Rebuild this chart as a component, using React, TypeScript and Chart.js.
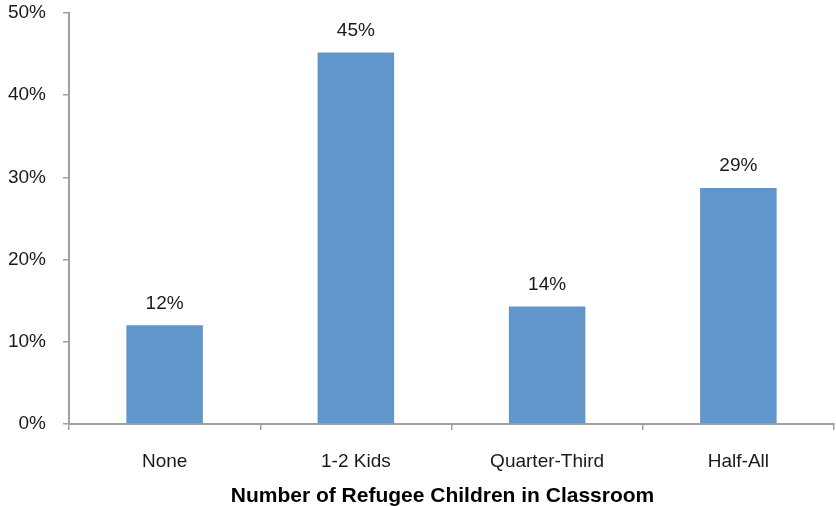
import React, { useEffect, useRef } from "react";
import { Chart, registerables } from "chart.js";

Chart.register(...registerables);

const categories = ["None", "1-2 Kids", "Quarter-Third", "Half-All"];
const values = [12.0, 45.2, 14.3, 28.7];
const valueLabels = ["12%", "45%", "14%", "29%"];
const yTicks = [0, 10, 20, 30, 40, 50];
const xTitle = "Number of Refugee Children in Classroom";

const FONT = "'Liberation Sans', Arial, sans-serif";

const labelPlugin = {
  id: "barLabels",
  afterDatasetsDraw(chart: any) {
    const ctx = chart.ctx;
    const meta = chart.getDatasetMeta(0);
    ctx.save();
    ctx.fillStyle = "#1a1a1a";
    ctx.font = "19px " + FONT;
    ctx.textAlign = "center";
    ctx.textBaseline = "middle";
    meta.data.forEach((bar: any, i: number) => {
      ctx.fillText(valueLabels[i], bar.x, bar.y - 22);
    });
    // axis title
    ctx.fillStyle = "#000";
    ctx.font = "bold 21px " + FONT;
    const xs = chart.scales.x;
    ctx.fillText(xTitle, (xs.left + xs.right) / 2 - 9, xs.bottom - 10);
    ctx.restore();
  },
};

export default function App() {
  const ref = useRef<HTMLCanvasElement>(null);
  useEffect(() => {
    const chart = new Chart(ref.current!, {
      type: "bar",
      data: {
        labels: categories,
        datasets: [
          {
            data: values,
            backgroundColor: "#6096c9",
            barPercentage: 0.4,
            categoryPercentage: 1,
          },
        ],
      },
      options: {
        animation: false,
        responsive: false,
        devicePixelRatio: 1,
        layout: { padding: { top: 13, right: 2, left: 0, bottom: 0 } },
        plugins: { legend: { display: false }, tooltip: { enabled: false } },
        scales: {
          x: {
            grid: {
              offset: true,
              drawOnChartArea: false,
              drawTicks: true,
              tickLength: 6,
              color: "#a0a0a0",
              lineWidth: 1.5,
            },
            border: { display: true, color: "#a0a0a0", width: 2 },
            ticks: {
              color: "#1a1a1a",
              font: { family: FONT, size: 19 },
              padding: 20,
            },
            title: { display: false },
            afterFit: (s: any) => {
              s.height = 82;
              s.paddingLeft = 0;
              s.paddingRight = 0;
            },
          },
          y: {
            min: 0,
            max: 50,
            afterBuildTicks: (s: any) => {
              s.ticks = yTicks.map((v) => ({ value: v }));
            },
            grid: {
              drawOnChartArea: false,
              drawTicks: true,
              tickLength: 6,
              color: "#a0a0a0",
              lineWidth: 1.5,
            },
            border: { display: true, color: "#a0a0a0", width: 2 },
            ticks: {
              color: "#1a1a1a",
              font: { family: FONT, size: 19 },
              padding: 17,
              callback: (v: any) => v + "%",
            },
            afterFit: (s: any) => {
              s.width = 69;
              s.paddingTop = 0;
              s.paddingBottom = 0;
            },
          },
        },
      },
      plugins: [labelPlugin],
    });
    return () => chart.destroy();
  }, []);
  return (
    <div style={{ position: "fixed", left: 0, top: 0, width: 836, height: 506, background: "#fff" }}>
      <canvas ref={ref} width={836} height={506} />
    </div>
  );
}
